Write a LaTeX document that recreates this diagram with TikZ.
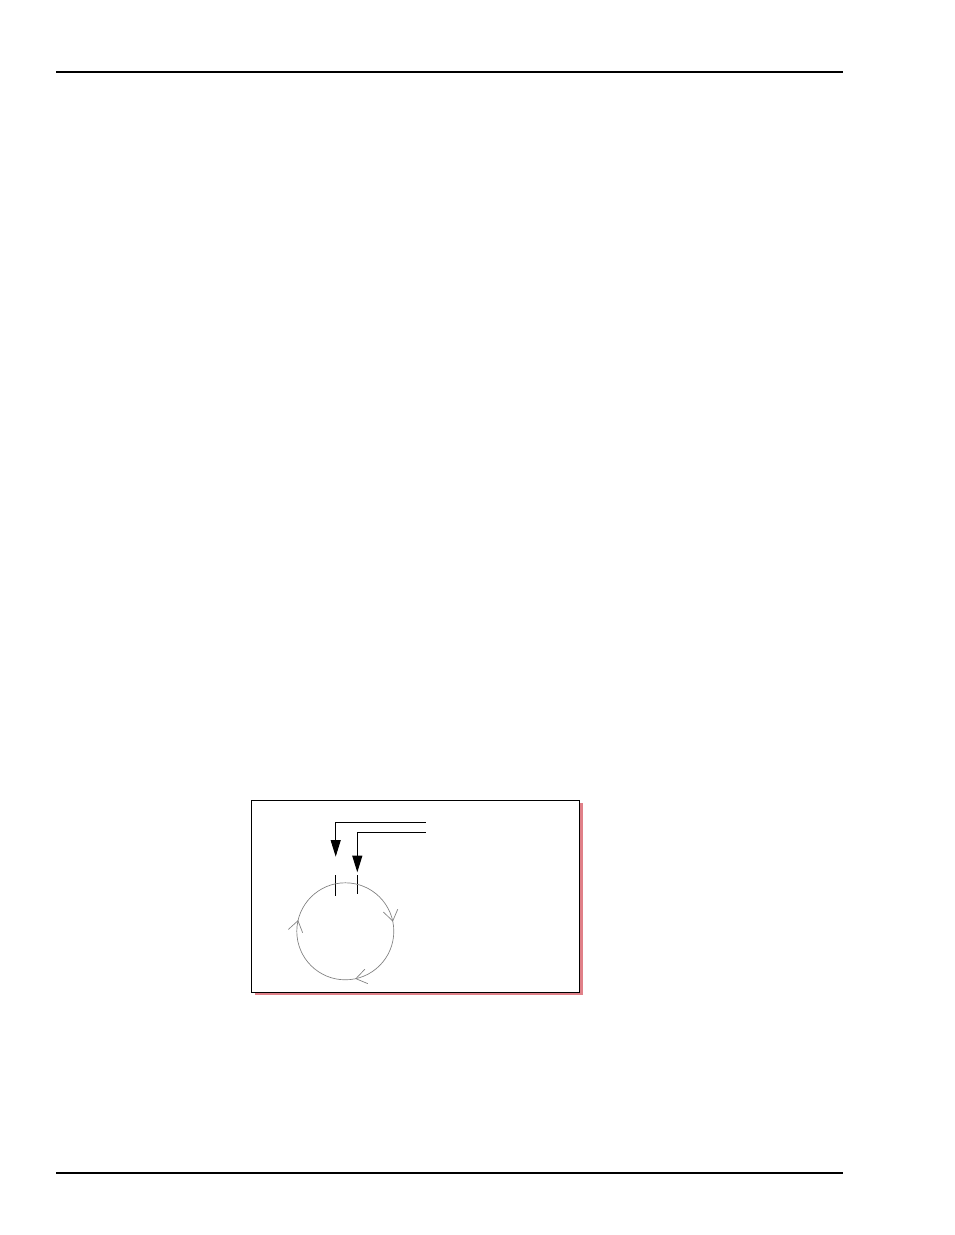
\documentclass[tikz,border=0pt]{standalone}
\usetikzlibrary{arrows.meta,decorations.markings,shadows}

\definecolor{shadowpink}{RGB}{224,128,136}
\tikzset{
  rule/.style={line width=1pt},
  feed/.style={line width=0.8pt,-{Triangle[length=12.5pt,width=7.5pt]}},
  gate/.style={line width=0.8pt},
  ring/.style={gray,line width=0.5pt,postaction={decorate},
    decoration={markings,
      mark=at position 0.217 with {\arrow{Straight Barb[length=8pt,width=11pt]}},
      mark=at position 0.537 with {\arrow{Straight Barb[length=8pt,width=11pt]}},
      mark=at position 0.968 with {\arrow{Straight Barb[length=8pt,width=11pt]}}}},
  panel/.style={draw,fill=white,line width=0.8pt,inner sep=0pt,
    minimum width=246pt,minimum height=143.5pt,
    drop shadow={shadow xshift=2pt,shadow yshift=-2pt,fill=shadowpink,opacity=1}}
}

\begin{document}
\begin{tikzpicture}[x=0.75pt,y=-0.75pt]
  \useasboundingbox (0,0) rectangle (954,1235);
  % page rules
  \draw[rule] (56,72) -- (843,72);
  \draw[rule] (56,1173) -- (843,1173);
  % figure panel
  \node[panel] (frame) at (415.9,896.4) {};
  \coordinate (inA)  at (425.7,822.3);
  \coordinate (inB)  at (425.7,832.7);
  \coordinate (tipA) at (335.7,856.7);
  \coordinate (tipB) at (357.3,872.3);
  \draw[feed] (inA) -| (tipA);
  \draw[feed] (inB) -| (tipB);
  \draw[gate] (335.7,875) -- (335.7,896);
  \draw[gate] (357.3,875) -- (357.3,894);
  \draw[ring] (345.3,931.3) coordinate (hub) circle[radius=48.5];
\end{tikzpicture}
\end{document}
